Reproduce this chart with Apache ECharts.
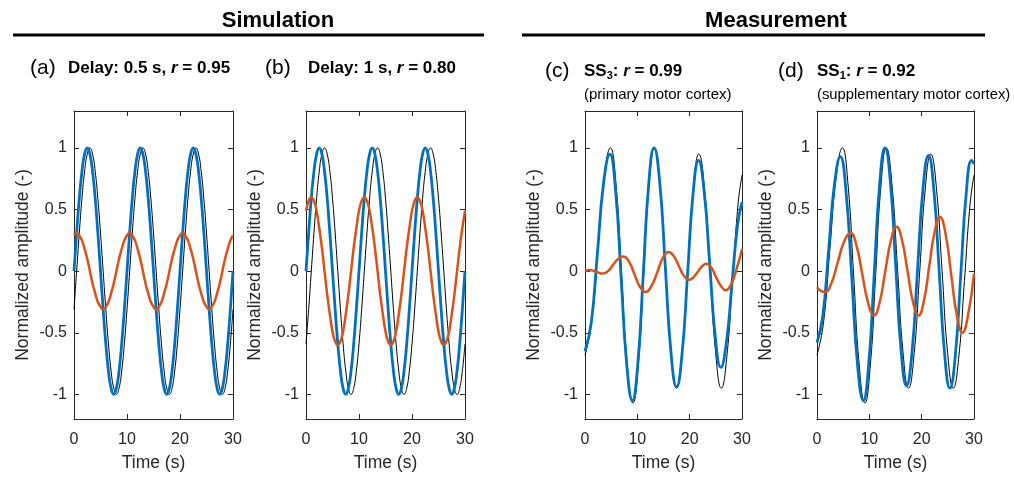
<!DOCTYPE html>
<html>
<head>
<meta charset="utf-8">
<script src="https://cdn.jsdelivr.net/npm/echarts@6/dist/echarts.min.js"></script>
<style>
html,body{margin:0;padding:0;background:#fff;}
#chart{width:1014px;height:477px;}
</style>
</head>
<body>
<div id="chart"></div>
<script>
// ---------- data ----------
const time = [0,0.5,1,1.5,2,2.5,3,3.5,4,4.5,5,5.5,6,6.5,7,7.5,8,8.5,9,9.5,10,10.5,11,11.5,12,12.5,13,13.5,14,14.5,15,15.5,16,16.5,17,17.5,18,18.5,19,19.5,20,20.5,21,21.5,22,22.5,23,23.5,24,24.5,25,25.5,26,26.5,27,27.5,28,28.5,29,29.5,30];

// Simulation (a) and (b): blue signal is shared
const simBlue = [0,0.31,0.59,0.81,0.95,1,0.95,0.81,0.59,0.31,0,-0.31,-0.59,-0.81,-0.95,-1,-0.95,-0.81,-0.59,-0.31,
  0,0.31,0.59,0.81,0.95,1,0.95,0.81,0.59,0.31,0,-0.31,-0.59,-0.81,-0.95,-1,-0.95,-0.81,-0.59,-0.31,
  0,0.31,0.59,0.81,0.95,1,0.95,0.81,0.59,0.31,0,-0.31,-0.59,-0.81,-0.95,-1,-0.95,-0.81,-0.59,-0.31,0];
const simBlackA = [-0.31,
  0,0.31,0.59,0.81,0.95,1,0.95,0.81,0.59,0.31,0,-0.31,-0.59,-0.81,-0.95,-1,-0.95,-0.81,-0.59,-0.31,
  0,0.31,0.59,0.81,0.95,1,0.95,0.81,0.59,0.31,0,-0.31,-0.59,-0.81,-0.95,-1,-0.95,-0.81,-0.59,-0.31,
  0,0.31,0.59,0.81,0.95,1,0.95,0.81,0.59,0.31,0,-0.31,-0.59,-0.81,-0.95,-1,-0.95,-0.81,-0.59,-0.31];
const simOrangeA = [0.29,0.31,0.29,0.25,0.18,0.10,0,-0.10,-0.18,-0.25,-0.29,-0.31,-0.29,-0.25,-0.18,-0.10,0,0.10,0.18,0.25,
  0.29,0.31,0.29,0.25,0.18,0.10,0,-0.10,-0.18,-0.25,-0.29,-0.31,-0.29,-0.25,-0.18,-0.10,0,0.10,0.18,0.25,
  0.29,0.31,0.29,0.25,0.18,0.10,0,-0.10,-0.18,-0.25,-0.29,-0.31,-0.29,-0.25,-0.18,-0.10,0,0.10,0.18,0.25,0.29];
const simBlackB = [-0.59,-0.31,
  0,0.31,0.59,0.81,0.95,1,0.95,0.81,0.59,0.31,0,-0.31,-0.59,-0.81,-0.95,-1,-0.95,-0.81,-0.59,-0.31,
  0,0.31,0.59,0.81,0.95,1,0.95,0.81,0.59,0.31,0,-0.31,-0.59,-0.81,-0.95,-1,-0.95,-0.81,-0.59,-0.31,
  0,0.31,0.59,0.81,0.95,1,0.95,0.81,0.59,0.31,0,-0.31,-0.59,-0.81,-0.95,-1,-0.95,-0.81,-0.59];
const simOrangeB = [0.49,0.57,0.60,0.57,0.49,0.35,0.19,0,-0.19,-0.35,-0.49,-0.57,-0.60,-0.57,-0.49,-0.35,-0.19,0,0.19,0.35,
  0.49,0.57,0.60,0.57,0.49,0.35,0.19,0,-0.19,-0.35,-0.49,-0.57,-0.60,-0.57,-0.49,-0.35,-0.19,0,0.19,0.35,
  0.49,0.57,0.60,0.57,0.49,0.35,0.19,0,-0.19,-0.35,-0.49,-0.57,-0.60,-0.57,-0.49,-0.35,-0.19,0,0.19,0.35,0.49];

const measBlack = [[0,-0.68],[1.21,-0.43],[2.43,0.16],[3.64,0.75],[4.85,1.0],[5.93,0.70],[7.0,-0.035],[8.08,-0.77],[9.15,-1.07],[10.18,-0.77],[11.2,-0.035],[12.23,0.70],[13.25,1.0],[14.31,0.71],[15.38,0.025],[16.44,-0.66],[17.5,-0.95],[18.56,-0.67],[19.63,0],[20.69,0.67],[21.75,0.95],[22.83,0.67],[23.9,0],[24.98,-0.67],[26.05,-0.95],[27.11,-0.69],[28.18,-0.075],[29.24,0.54],[30,0.78]];
const measBlueC = [[0,-0.65],[1.19,-0.42],[2.38,0.15],[3.56,0.72],[4.75,0.95],[5.83,0.66],[6.9,-0.05],[7.98,-0.76],[9.05,-1.05],[10.09,-0.75],[11.13,-0.025],[12.16,0.70],[13.2,1.0],[14.28,0.72],[15.35,0.03],[16.43,-0.66],[17.5,-0.94],[18.55,-0.67],[19.6,-0.02],[20.65,0.63],[21.7,0.90],[22.76,0.65],[23.83,0.06],[24.89,-0.53],[25.95,-0.78],[27.01,-0.58],[28.08,-0.105],[29.14,0.37],[30,0.56]];
const measOrangeC = [[0,0],[0.9,0.01],[2.15,-0.005],[3.4,-0.02],[4.38,0.0],[5.35,0.05],[6.33,0.10],[7.3,0.12],[8.38,0.08],[9.45,-0.025],[10.53,-0.13],[11.6,-0.17],[12.7,-0.12],[13.8,-0.01],[14.9,0.11],[16.0,0.155],[16.98,0.12],[17.95,0.04],[18.93,-0.04],[19.9,-0.07],[20.73,-0.05],[21.55,-0.005],[22.38,0.04],[23.2,0.06],[24.13,0.03],[25.05,-0.05],[25.98,-0.12],[26.9,-0.155],[27.98,-0.10],[29.05,0.03],[30,0.18]];
const measBlueD = [[0,-0.58],[1.12,-0.36],[2.23,0.175],[3.35,0.71],[4.46,0.93],[5.56,0.64],[6.66,-0.06],[7.75,-0.76],[8.85,-1.05],[9.89,-0.75],[10.93,-0.025],[11.96,0.70],[13.0,1.0],[14.03,0.72],[15.05,0.035],[16.08,-0.65],[17.1,-0.93],[18.15,-0.66],[19.2,0.005],[20.25,0.67],[21.3,0.94],[22.33,0.66],[23.35,-0.005],[24.38,-0.67],[25.4,-0.95],[26.44,-0.68],[27.48,-0.025],[28.51,0.63],[29.55,0.90],[30,0.87]];
const measOrangeD = [[0,-0.13],[0.75,-0.16],[1.5,-0.17],[2.73,-0.10],[3.95,0.07],[5.18,0.24],[6.4,0.31],[7.53,0.21],[8.65,-0.025],[9.78,-0.26],[10.9,-0.36],[11.98,-0.25],[13.05,0],[14.13,0.25],[15.2,0.36],[16.25,0.25],[17.3,0],[18.35,-0.25],[19.4,-0.36],[20.43,-0.24],[21.45,0.04],[22.48,0.32],[23.5,0.44],[24.58,0.30],[25.65,-0.03],[26.73,-0.36],[27.8,-0.50],[28.85,-0.36],[30,-0.02]];

const yTicks = [-1,-0.5,0,0.5,1];
const xTickStep = 10;

// ---------- chart ----------
const FONT = '"Liberation Sans", Arial, Helvetica, sans-serif';
const AX = '#262626';
const BLUE = '#0072BD', ORANGE = '#D95319', BLACK = '#000000';

const gridLefts = [74, 306, 585, 817];
const gridWidths = [159, 159, 157, 157];

const grids = [], xAxes = [], yAxes = [], series = [];
for (let i = 0; i < 4; i++) {
  grids.push({left: gridLefts[i], top: 111, width: gridWidths[i], height: 312, containLabel: false});
  const lineStyle = {color: AX, width: 1};
  const base = {gridIndex: i, type: 'value', splitLine: {show: false},
    axisLine: {show: true, onZero: false, lineStyle: lineStyle}};
  xAxes.push(Object.assign({}, base, {position: 'bottom', min: 0, max: 30, interval: xTickStep,
    axisTick: {show: true, inside: true, length: 5, lineStyle: lineStyle},
    axisLabel: {show: true, color: AX, fontSize: 16, fontFamily: FONT, margin: 13},
    name: 'Time (s)', nameLocation: 'middle', nameGap: 35,
    nameTextStyle: {color: AX, fontSize: 17.5, fontFamily: FONT}}));
  xAxes.push(Object.assign({}, base, {position: 'top', min: 0, max: 30, interval: xTickStep,
    axisTick: {show: true, inside: true, length: 5, lineStyle: lineStyle},
    axisLabel: {show: false}}));
  yAxes.push(Object.assign({}, base, {position: 'left', min: -1.2, max: 1.3,
    axisTick: {show: true, inside: true, length: 5, lineStyle: lineStyle, customValues: yTicks},
    axisLabel: {show: true, color: AX, fontSize: 16, fontFamily: FONT, margin: 7, customValues: yTicks},
    name: 'Normalized amplitude (-)', nameLocation: 'middle', nameGap: 42,
    nameTextStyle: {color: AX, fontSize: 17.5, fontFamily: FONT}}));
  yAxes.push(Object.assign({}, base, {position: 'right', min: -1.2, max: 1.3,
    axisTick: {show: true, inside: true, length: 5, lineStyle: lineStyle, customValues: yTicks},
    axisLabel: {show: false}}));
}

function pairs(ys) { return time.map((t, k) => [t, ys[k]]); }
function addSeries(i, data, color, width, z) {
  series.push({type: 'line', xAxisIndex: 2 * i, yAxisIndex: 2 * i, data: data,
    showSymbol: false, symbol: 'none', smooth: 0.5, clip: true, z: z,
    lineStyle: {color: color, width: width}, animation: false, silent: true});
}
const panels = [
  [pairs(simBlackA), pairs(simBlue), pairs(simOrangeA)],
  [pairs(simBlackB), pairs(simBlue), pairs(simOrangeB)],
  [measBlack, measBlueC, measOrangeC],
  [measBlack, measBlueD, measOrangeD]
];
panels.forEach((p, i) => {
  addSeries(i, p[0], BLACK, 1, 2);
  addSeries(i, p[1], BLUE, 2.8, 3);
  addSeries(i, p[2], ORANGE, 2.5, 4);
});

const richBold = {
  b: {fontSize: 17, fontWeight: 'bold', fontFamily: FONT, color: '#000', lineHeight: 20},
  i: {fontSize: 17, fontWeight: 'bold', fontStyle: 'italic', fontFamily: FONT, color: '#000', lineHeight: 20},
  s: {fontSize: 11, fontWeight: 'bold', fontFamily: FONT, color: '#000', lineHeight: 8, verticalAlign: 'bottom'}
};
function txt(x, y, text, size, weight, align) {
  return {type: 'text', x: x, y: y, silent: true,
    style: {text: text, fontSize: size, fontWeight: weight || 'normal', fontFamily: FONT, fill: '#000',
      align: align || 'left', verticalAlign: 'middle'}};
}
function rich(x, y, text) {
  return {type: 'text', x: x, y: y, silent: true,
    style: {text: text, rich: richBold, fontFamily: FONT, fill: '#000', align: 'left', verticalAlign: 'middle'}};
}

const graphic = [
  txt(278, 21, 'Simulation', 22, 'bold', 'center'),
  {type: 'line', silent: true, shape: {x1: 13, y1: 35, x2: 484, y2: 35}, style: {stroke: '#000', lineWidth: 3}},
  txt(776, 21, 'Measurement', 22, 'bold', 'center'),
  {type: 'line', silent: true, shape: {x1: 522, y1: 35, x2: 985, y2: 35}, style: {stroke: '#000', lineWidth: 3}},
  txt(30, 68, '(a)', 21),
  rich(68, 68, '{b|Delay: 0.5 s, }{i|r}{b| = 0.95}'),
  txt(265, 68, '(b)', 21),
  rich(308, 68, '{b|Delay: 1 s, }{i|r}{b| = 0.80}'),
  txt(545, 71, '(c)', 21),
  rich(584, 71, '{b|SS}{s|3}{b|: }{i|r}{b| = 0.99}'),
  txt(584, 95, '(primary motor cortex)', 15),
  txt(778, 71, '(d)', 21),
  rich(817, 71, '{b|SS}{s|1}{b|: }{i|r}{b| = 0.92}'),
  txt(817, 95, '(supplementary motor cortex)', 14.8)
];

const chart = echarts.init(document.getElementById('chart'), null, {renderer: 'canvas'});
chart.setOption({
  backgroundColor: '#ffffff',
  animation: false,
  grid: grids,
  xAxis: xAxes,
  yAxis: yAxes,
  series: series,
  graphic: graphic
});
</script>
</body>
</html>
